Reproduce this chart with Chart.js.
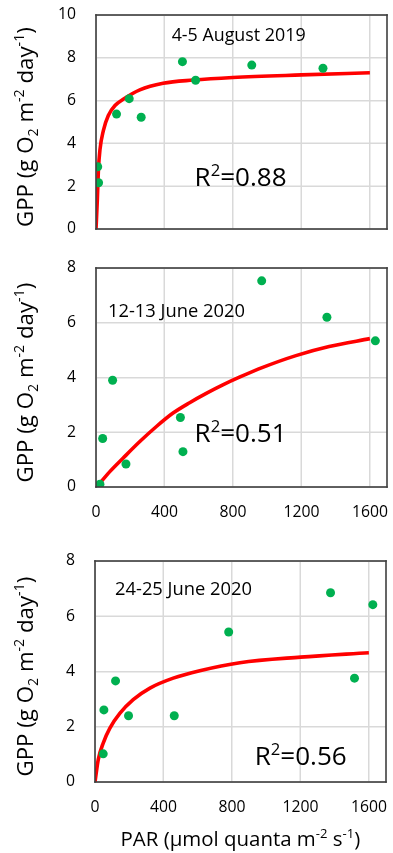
<!DOCTYPE html>
<html>
<head>
<meta charset="utf-8">
<script src="https://cdn.jsdelivr.net/npm/chart.js@4.4.1/dist/chart.umd.min.js"></script>
<style>
  html, body { margin: 0; padding: 0; background: #ffffff; }
  body { width: 393px; height: 853px; position: relative; overflow: hidden; }
  canvas { position: absolute; left: 0; }
</style>
</head>
<body>
<canvas id="c1" width="393" height="250" style="top:0px"></canvas>
<canvas id="c2" width="393" height="280" style="top:250px"></canvas>
<canvas id="c3" width="393" height="323" style="top:530px"></canvas>
<script>
// ---- 4-5 August 2019 ----
const parAug = [10, 15, 120, 194, 264, 505, 582, 910, 1326];
const gppAug = [2.91, 2.16, 5.37, 6.09, 5.22, 7.82, 6.95, 7.66, 7.51];
const fitParAug = [0, 8, 14, 23, 43, 72, 111, 159, 256, 392, 567, 800, 1200, 1600];
const fitGppAug = [0, 1.4, 2.75, 3.7, 4.6, 5.3, 5.77, 6.06, 6.5, 6.81, 6.96, 7.08, 7.2, 7.3];

// ---- 12-13 June 2020 ----
const parJun12 = [23, 39, 97, 175, 493, 508, 968, 1349, 1632];
const gppJun12 = [0.1, 1.77, 3.9, 0.84, 2.54, 1.29, 7.53, 6.2, 5.34];
const fitParJun12 = [0, 13, 82, 159, 256, 353, 450, 547, 644, 741, 838, 974, 1168, 1362, 1600];
const fitGppJun12 = [0, 0.08, 0.57, 1.06, 1.66, 2.21, 2.7, 3.08, 3.42, 3.73, 4.01, 4.37, 4.8, 5.13, 5.42];

// ---- 24-25 June 2020 ----
const parJun24 = [48, 52, 120, 196, 463, 781, 1376, 1516, 1623];
const gppJun24 = [1.02, 2.61, 3.66, 2.4, 2.4, 5.43, 6.85, 3.76, 6.42];
const fitParJun24 = [0, 19, 48, 87, 146, 223, 321, 457, 612, 846, 1200, 1600];
const fitGppJun24 = [0, 0.81, 1.41, 1.95, 2.49, 2.98, 3.4, 3.76, 4.03, 4.32, 4.52, 4.68];

// ---- axis ticks ----
const parTicks = [0, 400, 800, 1200, 1600];
const gppTicksAug = [0, 2, 4, 6, 8, 10];
const gppTicksJun = [0, 2, 4, 6, 8];

// ---- labels ----
const panelDates = ['4-5 August 2019', '12-13 June 2020', '24-25 June 2020'];
const r2Values = ['0.88', '0.51', '0.56'];
const yTitleParts = [
  { t: 'GPP (g O' }, { t: '2', sub: true }, { t: ' m' }, { t: '-2', sup: true },
  { t: ' day' }, { t: '-1', sup: true }, { t: ')' }
];
const xTitleParts = [
  { t: 'PAR (\u00b5mol quanta m' }, { t: '-2', sup: true }, { t: ' s' }, { t: '-1', sup: true }, { t: ')' }
];

const FONT = "'Open Sans', 'Liberation Sans', sans-serif";
const GREEN = '#00b050';
const RED = '#ff0000';
const GRID = '#d9d9d9';
const FRAME = '#404040';
const TEXT = '#000000';

// font size giving a set width for a sample string
function sizeForWidth(sample, width) {
  const c = document.createElement('canvas').getContext('2d');
  c.font = '100px ' + FONT;
  return 100 * width / c.measureText(sample).width;
}
const TICK_SIZE = sizeForWidth('1600', 36);

function toPoints(xs, ys) { return xs.map((x, i) => ({ x: x, y: ys[i] })); }

function partFont(s, size) {
  const sz = (s.sub || s.sup) ? size * 0.64 : size;
  return sz.toFixed(2) + 'px ' + FONT;
}

function partsWidth(ctx, parts, size) {
  let total = 0;
  parts.forEach(s => { ctx.font = partFont(s, size); total += ctx.measureText(s.t).width; });
  return total;
}

// runs of normal / sub / superscript text; size chosen so the whole run spans `width`
function drawRich(ctx, parts, x, cy, width, align) {
  const size = 20 * width / partsWidth(ctx, parts, 20);
  if (align === 'center') x -= width / 2;
  ctx.textAlign = 'left';
  ctx.textBaseline = 'middle';
  parts.forEach(s => {
    ctx.font = partFont(s, size);
    const dy = s.sub ? size * 0.3 : (s.sup ? -size * 0.3 : 0);
    ctx.fillText(s.t, x, cy + dy);
    x += ctx.measureText(s.t).width;
  });
}

// light grid under the data, frame and text on top
const panelDecor = {
  id: 'panelDecor',
  beforeDatasetsDraw(chart) {
    const ctx = chart.ctx, a = chart.chartArea;
    const xs = chart.scales.x, ys = chart.scales.y;
    ctx.save();
    ctx.fillStyle = GRID;
    xs.ticks.forEach(t => {
      const px = Math.round(xs.getPixelForValue(t.value));
      ctx.fillRect(px - 0.5, a.top, 1, a.bottom - a.top);
    });
    ys.ticks.forEach(t => {
      const py = Math.round(ys.getPixelForValue(t.value));
      ctx.fillRect(a.left, py - 0.5, a.right - a.left, 1);
    });
    ctx.restore();
  },
  afterDraw(chart) {
    const opts = chart.config.options.decor;
    const ctx = chart.ctx, a = chart.chartArea;
    const xs = chart.scales.x, ys = chart.scales.y;
    ctx.save();
    ctx.fillStyle = FRAME;
    const w = 1.6;
    ctx.fillRect(a.left - w / 2, a.top - w / 2, a.right - a.left + w, w);
    ctx.fillRect(a.left - w / 2, a.bottom - w / 2, a.right - a.left + w, w);
    ctx.fillRect(a.left - w / 2, a.top - w / 2, w, a.bottom - a.top + w);
    ctx.fillRect(a.right - w / 2, a.top - w / 2, w, a.bottom - a.top + w);
    ctx.fillStyle = TEXT;
    opts.notes.forEach(n => {
      const parts = n.r2 ? [{ t: 'R' }, { t: '2', sup: true }, { t: '=' + n.text }] : [{ t: n.text }];
      drawRich(ctx, parts, xs.getPixelForValue(n.x), ys.getPixelForValue(n.y), n.width, 'left');
    });
    ctx.save();
    ctx.translate(27, (a.top + a.bottom) / 2 + 5);
    ctx.rotate(-Math.PI / 2);
    drawRich(ctx, yTitleParts, 0, 0, 200, 'center');
    ctx.restore();
    if (opts.xTitleY) {
      drawRich(ctx, xTitleParts, (a.left + a.right) / 2, opts.xTitleY, 240, 'center');
    }
    ctx.restore();
  }
};

function makePanel(id, cfg) {
  const canvas = document.getElementById(id);
  const H = canvas.height;
  return new Chart(canvas, {
    type: 'scatter',
    data: {
      datasets: [
        {
          data: toPoints(cfg.par, cfg.gpp),
          pointRadius: 4.5,
          pointHoverRadius: 4.5,
          pointBackgroundColor: GREEN,
          pointBorderColor: GREEN,
          pointBorderWidth: 0,
          showLine: false
        },
        {
          data: toPoints(cfg.fitPar, cfg.fitGpp),
          showLine: true,
          borderColor: RED,
          borderWidth: 3.6,
          pointRadius: 0,
          cubicInterpolationMode: 'monotone'
        }
      ]
    },
    options: {
      responsive: false,
      animation: false,
      decor: { notes: cfg.notes, xTitleY: cfg.xTitleY },
      layout: { padding: { top: cfg.top, right: 393 - cfg.right, bottom: 0, left: 0 } },
      plugins: { legend: { display: false }, tooltip: { enabled: false } },
      scales: {
        x: {
          min: 0,
          max: 1700,
          afterBuildTicks: s => { s.ticks = parTicks.map(v => ({ value: v })); },
          afterFit: s => { s.height = H - cfg.bottom; },
          grid: { color: GRID, drawTicks: true, tickLength: 16, tickColor: 'rgba(0,0,0,0)' },
          border: { display: false },
          ticks: {
            display: cfg.showXTicks,
            padding: 0,
            color: TEXT,
            font: { family: FONT, size: TICK_SIZE },
            callback: v => String(v)
          }
        },
        y: {
          min: 0,
          max: cfg.yTicks[cfg.yTicks.length - 1],
          afterBuildTicks: s => { s.ticks = cfg.yTicks.map(v => ({ value: v })); },
          afterFit: s => { s.width = cfg.left; },
          grid: { color: GRID, drawTicks: true, tickLength: 16, tickColor: 'rgba(0,0,0,0)' },
          border: { display: false },
          ticks: {
            padding: 4,
            color: TEXT,
            font: { family: FONT, size: TICK_SIZE },
            callback: v => String(v)
          }
        }
      }
    },
    plugins: [panelDecor]
  });
}

makePanel('c1', {
  par: parAug, gpp: gppAug, fitPar: fitParAug, fitGpp: fitGppAug,
  yTicks: gppTicksAug, top: 15, bottom: 229, left: 96, right: 387,
  showXTicks: false,
  notes: [
    { text: panelDates[0], x: 442, y: 9.02, width: 134 },
    { text: r2Values[0], x: 576, y: 2.34, width: 92, r2: true }
  ]
});

makePanel('c2', {
  par: parJun12, gpp: gppJun12, fitPar: fitParJun12, fitGpp: fitGppJun12,
  yTicks: gppTicksJun, top: 18, bottom: 237, left: 96, right: 387,
  showXTicks: true,
  notes: [
    { text: panelDates[1], x: 70, y: 6.41, width: 137 },
    { text: r2Values[1], x: 576, y: 1.91, width: 92, r2: true }
  ]
});

makePanel('c3', {
  par: parJun24, gpp: gppJun24, fitPar: fitParJun24, fitGpp: fitGppJun24,
  yTicks: gppTicksJun, top: 31, bottom: 252, left: 95, right: 386,
  showXTicks: true, xTitleY: 310,
  notes: [
    { text: panelDates[2], x: 117, y: 6.95, width: 137 },
    { text: r2Values[2], x: 933, y: 0.88, width: 92, r2: true }
  ]
});
</script>
</body>
</html>
